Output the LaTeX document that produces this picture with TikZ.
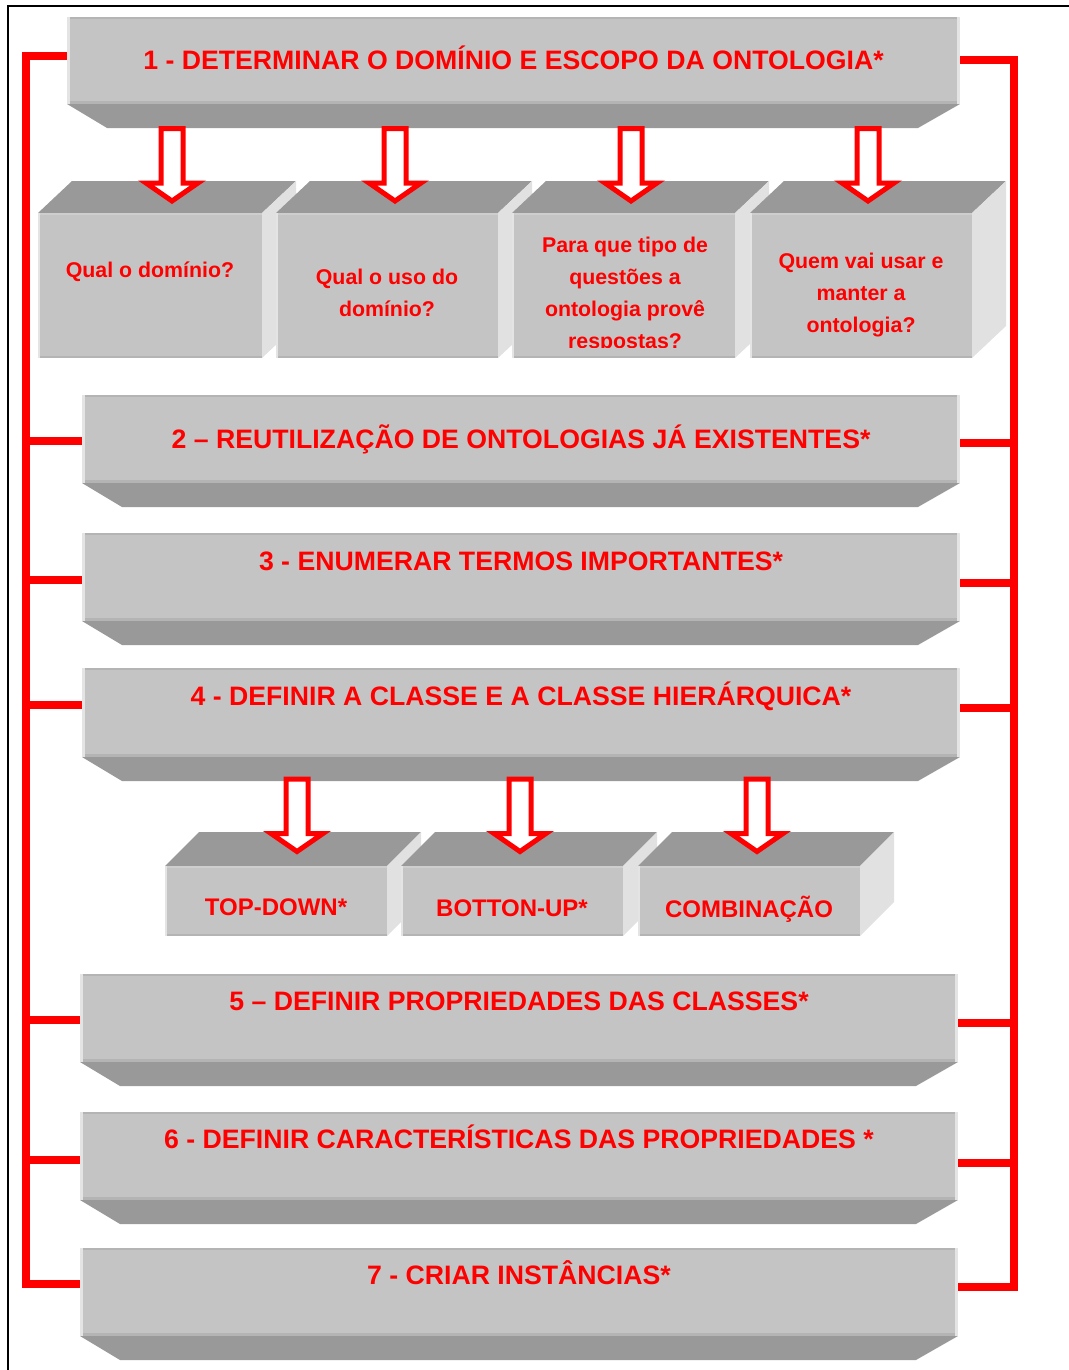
\documentclass[tikz,border=0pt]{standalone}
\usepackage{fontspec}
\setmainfont{Liberation Sans}
\usetikzlibrary{calc,fit}

\definecolor{facegray}{RGB}{196,196,196}
\definecolor{shadegray}{RGB}{153,153,153}
\definecolor{sidegray}{RGB}{225,225,225}
\definecolor{edgedark}{RGB}{180,180,180}
\definecolor{edgelight}{RGB}{228,228,228}
\definecolor{edgetop}{RGB}{206,206,206}

\tikzset{
  frontface/.style={fill=facegray, draw=none, inner sep=0pt, outer sep=0pt},
  bevelface/.style={fill=shadegray},
  sideface/.style={fill=sidegray},
  bannertext/.style={text=red, font=\fontsize{20}{24}\selectfont\bfseries, inner sep=0pt, anchor=base},
  qtext/.style={text=red, font=\fontsize{16}{24}\selectfont\bfseries, inner sep=0pt, align=center, anchor=north},
  rtext/.style={text=red, font=\fontsize{18}{22}\selectfont\bfseries, inner sep=0pt, anchor=base},
  bus/.style={draw=red, line width=6pt, line join=miter},
  hollow/.style={draw=red, fill=white, line width=3.75pt, line join=miter, miter limit=10},
  pics/downarrow/.style={code={
    \draw[hollow] (-11,0) -- (11,0) -- (11,54.5) -- (26,54.5) -- (0,72.5)
                  -- (-26,54.5) -- (-11,54.5) -- cycle;}},
}

% long bevelled step: name, x0, y0, x1, y1, label, baseline offset
\newcommand\bannerbox[7]{%
  \node[frontface, fit={(#2,#3) (#4,#5)}] (#1) {};
  \fill[bevelface] (#1.south west) -- (#1.south east) -- ($(#1.south east)+(-42,24)$)
                   -- ($(#1.south west)+(40,24)$) -- cycle;
  \fill[edgedark] (#1.north west) rectangle ($(#1.north east)+(0,2)$);
  \fill[edgedark] ($(#1.south west)+(0,-3)$) rectangle (#1.south east);
  \fill[edgelight] (#1.north west) rectangle ($(#1.south west)+(3,0)$);
  \fill[edgelight] ($(#1.north east)+(-3,0)$) rectangle (#1.south east);
  \node[bannertext] (#1t) at ($(#1.north)+(0,#7)$) {#6};
}

% block with top and right faces: name, x0, y0, x1, y1, rise of top face
\newcommand\cubebox[6]{%
  \fill[bevelface] (#2,#3) -- (#4,#3) -- (#4+34,#3-#6) -- (#2+34,#3-#6) -- cycle;
  \fill[sideface] (#4,#3) -- (#4+34,#3-#6) -- (#4+34,#5-#6) -- (#4,#5) -- cycle;
  \node[frontface, fit={(#2,#3) (#4,#5)}] (#1) {};
  \fill[edgetop] (#1.north west) rectangle ($(#1.north east)+(0,2)$);
  \fill[edgedark] ($(#1.south west)+(0,-2)$) rectangle (#1.south east);
  \fill[edgelight] (#1.north west) rectangle ($(#1.south west)+(2,0)$);
}

\begin{document}
\begin{tikzpicture}[x=0.75pt,y=-0.75pt]
\useasboundingbox (0,0) rectangle (1068,1370);

% page frame
\draw[line width=1.5pt] (8,1372) -- (8,6) -- (1070,6);

% main steps
\bannerbox{b1}{67}{17}{960}{104}{1 - DETERMINAR O DOMÍNIO E ESCOPO DA ONTOLOGIA*}{52.5}
\bannerbox{b2}{82}{395}{960}{483}{2 – REUTILIZAÇÃO DE ONTOLOGIAS JÁ EXISTENTES*}{53.5}
\bannerbox{b3}{82}{533}{960}{621}{3 - ENUMERAR TERMOS IMPORTANTES*}{37}
\bannerbox{b4}{82}{668}{960}{757}{4 - DEFINIR A CLASSE E A CLASSE HIERÁRQUICA*}{37.5}
\bannerbox{b5}{80}{974}{958}{1062}{5 – DEFINIR PROPRIEDADES DAS CLASSES*}{36}
\bannerbox{b6}{80}{1112}{958}{1200}{6 - DEFINIR CARACTERÍSTICAS DAS PROPRIEDADES *}{36}
\bannerbox{b7}{80}{1248}{958}{1336}{7 - CRIAR INSTÂNCIAS*}{36.5}

% questions of step 1
\cubebox{q1}{38}{213}{262}{358}{32}
\cubebox{q2}{276}{213}{498}{358}{32}
\cubebox{q3}{512}{213}{735}{358}{32}
\cubebox{q4}{750}{213}{972}{358}{32}
\node[qtext] (q1t) at ($(q1.north)+(0,48.5)$) {Qual o domínio?};
\node[qtext] (q2t) at ($(q2.north)+(0,55.5)$) {Qual o uso do\\domínio?};
\begin{scope}
  \clip (q3.north west) rectangle ($(q3.south east)+(0,-11)$);
  \node[qtext] (q3t) at ($(q3.north)+(1.5,23.5)$) {Para que tipo de\\questões a\\ontologia provê\\respostas?};
\end{scope}
\node[qtext] (q4t) at ($(q4.north)+(0,39.5)$) {Quem vai usar e\\manter a\\ontologia?};

% approaches of step 4
\cubebox{r1}{165}{866}{387}{936}{34}
\cubebox{r2}{401}{866}{623}{936}{34}
\cubebox{r3}{638}{866}{860}{936}{34}
\node[rtext] (r1t) at ($(r1.north)+(0,49)$) {TOP-DOWN*};
\node[rtext] (r2t) at ($(r2.north)+(0,50.5)$) {BOTTON-UP*};
\node[rtext] (r3t) at ($(r3.north)+(0,51)$) {COMBINAÇÃO};

% hollow arrows from the steps to their sub-items
\coordinate (a1) at (172,128.5);
\coordinate (a2) at (395,128.5);
\coordinate (a3) at (631,128.5);
\coordinate (a4) at (868,128.5);
\coordinate (a5) at (297,779);
\coordinate (a6) at (520,779);
\coordinate (a7) at (757,779);
\foreach \a in {a1,a2,a3,a4,a5,a6,a7} \pic at (\a) {downarrow};

% red feedback buses on both sides
\coordinate (busL) at (26,600);
\coordinate (busR) at (1014,600);
\draw[bus] ($(b1.west)+(0,-4.5)$) -| (busL) |- ($(b7.west)+(0,-8)$);
\draw[bus] ($(b1.east)+(0,-0.5)$) -| (busR) |- ($(b7.east)+(0,-5)$);
\foreach \n/\d in {b2/2,b3/3,b4/-7.5,b5/2,b6/4}
  \draw[bus] ($(\n.west)+(0,\d)$) coordinate (lp) -- (lp -| busL);
\foreach \n/\d in {b2/4,b3/6,b4/-4.5,b5/5,b6/7}
  \draw[bus] ($(\n.east)+(0,\d)$) coordinate (rp) -- (rp -| busR);
\end{tikzpicture}
\end{document}
